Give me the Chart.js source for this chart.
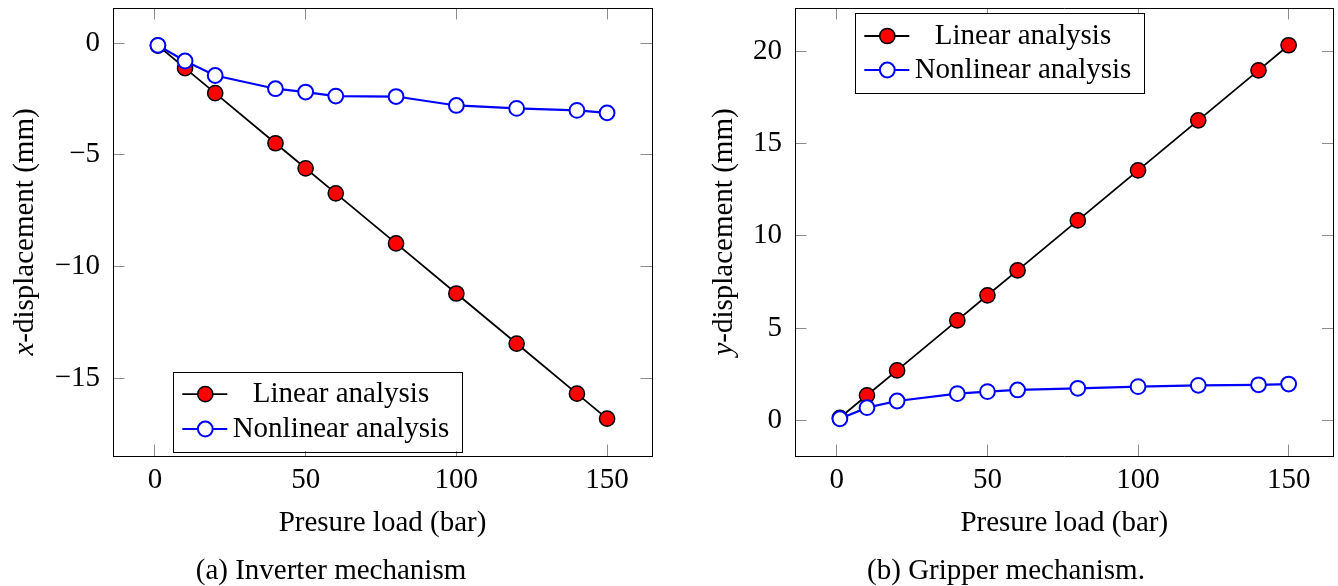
<!DOCTYPE html>
<html><head><meta charset="utf-8">
<script src="https://cdn.jsdelivr.net/npm/chart.js@4.4.1/dist/chart.umd.min.js"></script>
<style>
html,body{margin:0;padding:0;background:#fff;}
#wrap{position:relative;width:1338px;height:586px;overflow:hidden;background:#fff;}
.cap{position:absolute;font-family:"Liberation Serif";font-size:29px;color:#000;white-space:nowrap;transform:translate(-50%,-50%);line-height:1;}
</style></head><body>
<div id="wrap">
<canvas id="c1" width="669" height="586" style="position:absolute;left:0;top:0;width:669px;height:586px"></canvas>
<canvas id="c2" width="669" height="586" style="position:absolute;left:669px;top:0;width:669px;height:586px"></canvas>
<div class="cap" style="left:331px;top:569px">(a) Inverter mechanism</div>
<div class="cap" style="left:1006px;top:569px">(b) Gripper mechanism.</div>
</div>
<script>
// ---- data ----
const loads = [1, 10, 20, 40, 50, 60, 80, 100, 120, 140, 150];
const xDispLinear = [-0.11, -1.12, -2.24, -4.48, -5.60, -6.72, -8.96, -11.20, -13.44, -15.68, -16.80];
const xDispNonlinear = [-0.10, -0.80, -1.45, -2.04, -2.19, -2.37, -2.39, -2.79, -2.92, -3.01, -3.12];
const yDispLinear = [0.14, 1.36, 2.71, 5.42, 6.78, 8.13, 10.84, 13.55, 16.26, 18.97, 20.33];
const yDispNonlinear = [0.09, 0.69, 1.05, 1.45, 1.56, 1.65, 1.74, 1.83, 1.90, 1.93, 1.97];
const xTickValues = [0, 50, 100, 150];
const yTicksA = [-15, -10, -5, 0];
const yTicksB = [0, 5, 10, 15, 20];
const seriesNames = ['Linear analysis', 'Nonlinear analysis'];

const FONT = 'Liberation Serif';
const FS = 29;

const boxLegend = {
  id: 'boxLegend',
  afterDraw(chart, args, o) {
    const ctx = chart.ctx;
    ctx.save();
    ctx.fillStyle = '#fff';
    ctx.fillRect(o.x, o.y, o.w, o.h);
    ctx.strokeStyle = '#000'; ctx.lineWidth = 1;
    ctx.strokeRect(Math.round(o.x) + 0.5, Math.round(o.y) + 0.5, Math.round(o.w), Math.round(o.h));
    chart.data.datasets.forEach((ds, i) => {
      const cy = o.y + o.rowY[i];
      ctx.strokeStyle = ds.borderColor; ctx.lineWidth = ds.borderWidth;
      ctx.beginPath(); ctx.moveTo(o.x + 9, cy); ctx.lineTo(o.x + 54, cy); ctx.stroke();
      ctx.beginPath(); ctx.arc(o.x + 32, cy, ds.pointRadius, 0, Math.PI * 2);
      ctx.fillStyle = ds.pointBackgroundColor; ctx.fill();
      ctx.lineWidth = ds.pointBorderWidth; ctx.strokeStyle = ds.pointBorderColor; ctx.stroke();
      ctx.fillStyle = '#000';
      ctx.font = FS + 'px "' + FONT + '"';
      ctx.textAlign = 'center'; ctx.textBaseline = 'middle';
      ctx.fillText(ds.label, o.x + 167.7, cy);
    });
    ctx.restore();
  }
};

const yTitle = {
  id: 'yTitle',
  afterDraw(chart, args, o) {
    const ctx = chart.ctx;
    const ca = chart.chartArea;
    ctx.save();
    ctx.translate(o.x, (ca.top + ca.bottom) / 2);
    ctx.rotate(-Math.PI / 2);
    ctx.fillStyle = '#000';
    ctx.textBaseline = 'middle';
    ctx.textAlign = 'left';
    const ital = 'italic ' + FS + 'px "' + FONT + '"';
    const reg = FS + 'px "' + FONT + '"';
    ctx.font = ital; const w1 = ctx.measureText(o.ital).width;
    ctx.font = reg; const w2 = ctx.measureText(o.rest).width;
    const start = -(w1 + w2) / 2;
    ctx.font = ital; ctx.fillText(o.ital, start, 0);
    ctx.font = reg; ctx.fillText(o.rest, start + w1, 0);
    ctx.restore();
  }
};

function fmt(v) { return String(v).replace('-', '\u2212'); }

function noPad(s) { s.paddingTop = 0; s.paddingBottom = 0; s.paddingLeft = 0; s.paddingRight = 0; }

function makeScales(cfg) {
  const tickGrid = { drawOnChartArea: false, drawTicks: true, tickLength: -11.5, color: 'rgba(0,0,0,0.45)', lineWidth: 1 };
  const border = { display: true, color: '#000', width: 1 };
  const font = { family: FONT, size: FS, lineHeight: 1 };
  return {
    x: {
      type: 'linear', position: 'bottom', min: -13.9, max: 164.9,
      afterBuildTicks: s => { s.ticks = xTickValues.map(v => ({ value: v })); },
      afterFit: s => { s.height = 586 - cfg.bottom; noPad(s); },
      grid: tickGrid, border,
      ticks: { font, color: '#000', padding: 11.5 + 9.5, maxRotation: 0, autoSkip: false, callback: fmt },
      title: { display: true, text: 'Presure load (bar)', font, color: '#000', padding: { top: 0, bottom: 48.5 } }
    },
    x2: {
      type: 'linear', position: 'top', min: -13.9, max: 164.9,
      afterBuildTicks: s => { s.ticks = xTickValues.map(v => ({ value: v })); },
      afterFit: s => { s.height = cfg.top; noPad(s); },
      grid: tickGrid, border, ticks: { display: false }
    },
    y: {
      type: 'linear', position: 'left', min: cfg.yMin, max: cfg.yMax,
      afterBuildTicks: s => { s.ticks = cfg.yTicks.map(v => ({ value: v })); },
      afterFit: s => { s.width = cfg.left; noPad(s); },
      grid: tickGrid, border,
      ticks: { font, color: '#000', padding: 11.5 + 13, autoSkip: false, callback: fmt }
    },
    y2: {
      type: 'linear', position: 'right', min: cfg.yMin, max: cfg.yMax,
      afterBuildTicks: s => { s.ticks = cfg.yTicks.map(v => ({ value: v })); },
      afterFit: s => { s.width = cfg.right; noPad(s); },
      grid: tickGrid, border, ticks: { display: false }
    }
  };
}

function datasets(lin, nonlin) {
  return [
    {
      label: seriesNames[0],
      data: loads.map((x, i) => ({ x, y: lin[i] })),
      borderColor: '#000000', borderWidth: 1.8,
      pointBackgroundColor: '#ff0000', pointBorderColor: '#000000', pointBorderWidth: 1.5, pointRadius: 7.6,
      pointStyle: 'circle', tension: 0, order: 1, xAxisID: 'x', yAxisID: 'y'
    },
    {
      label: seriesNames[1],
      data: loads.map((x, i) => ({ x, y: nonlin[i] })),
      borderColor: '#0000ff', borderWidth: 2.2,
      pointBackgroundColor: '#ffffff', pointBorderColor: '#0000ff', pointBorderWidth: 2, pointRadius: 7.4,
      pointStyle: 'circle', tension: 0, order: 0, xAxisID: 'x', yAxisID: 'y'
    }
  ];
}

function makeChart(id, lin, nonlin, cfg) {
  return new Chart(document.getElementById(id), {
    type: 'line',
    data: { datasets: datasets(lin, nonlin) },
    options: {
      responsive: false, animation: false, devicePixelRatio: 1, events: [],
      layout: { padding: 0, autoPadding: false },
      scales: makeScales(cfg),
      plugins: {
        legend: { display: false }, tooltip: { enabled: false },
        boxLegend: cfg.legend,
        yTitle: cfg.title
      }
    },
    plugins: [boxLegend, yTitle]
  });
}

makeChart('c1', xDispLinear, xDispNonlinear, {
  yMin: -18.47, yMax: 1.57, yTicks: yTicksA,
  left: 113, right: 669 - 652, top: 8, bottom: 456,
  legend: { x: 173.3, y: 371.7, w: 289.4, h: 79.5, rowY: [22.5, 57.3] },
  title: { x: 25, ital: 'x', rest: '-displacement (mm)' }
});

makeChart('c2', yDispLinear, yDispNonlinear, {
  yMin: -1.93, yMax: 22.35, yTicks: yTicksB,
  left: 795 - 669, right: 1338 - 1333.5, top: 8, bottom: 456,
  legend: { x: 855.3 - 669, y: 13.3, w: 289, h: 80, rowY: [22.7, 56.7] },
  title: { x: 724 - 669, ital: 'y', rest: '-displacement (mm)' }
});
</script>
</body></html>
